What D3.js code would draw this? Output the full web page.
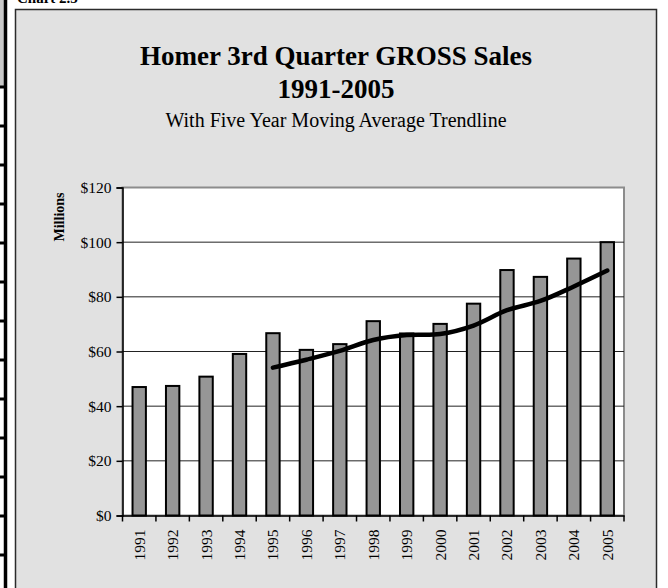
<!DOCTYPE html>
<html>
<head>
<meta charset="utf-8">
<script src="https://cdn.jsdelivr.net/npm/d3@7"></script>
<style>
  body { margin: 0; background: #fff; }
  svg { display: block; font-family: "Liberation Serif", "Times New Roman", serif; }
</style>
</head>
<body>
<div id="chart"></div>
<script>
// data
const years = ['1991', '1992', '1993', '1994', '1995', '1996', '1997', '1998',
  '1999', '2000', '2001', '2002', '2003', '2004', '2005'];
const sales = [47.0, 47.4, 50.8, 59.1, 66.7, 60.6, 62.7, 71.1, 66.6, 70.1, 77.5, 89.8, 87.3, 94.0, 100.0];
const movingAvg = [null, null, null, null, 54.1, 57.0, 60.2, 64.2, 66.0, 66.4, 69.5, 75.1, 78.5, 83.8, 89.6];
const yTicks = [0, 20, 40, 60, 80, 100, 120];

const width = 668;
const height = 588;

const svg = d3.select('#chart')
  .append('svg')
  .attr('width', width)
  .attr('height', height);

/* cut-off page bits on the left */
svg.append('rect').attr('x', 0).attr('y', 0).attr('width', 5).attr('height', 86).attr('fill', '#c8c8c8');
svg.append('line').attr('x1', 5.5).attr('x2', 5.5).attr('y1', 0).attr('y2', height)
  .attr('stroke', '#000').attr('stroke-width', 3.5);
svg.selectAll('.rowline')
  .data(d3.range(87, height, 39))
  .enter()
  .append('line')
  .attr('class', 'rowline')
  .attr('x1', 0).attr('x2', 7)
  .attr('y1', (d) => d).attr('y2', (d) => d)
  .attr('stroke', '#000').attr('stroke-width', 3);

svg.append('text')
  .attr('x', 17).attr('y', 3)
  .style('font-size', '15px').style('font-weight', 'bold')
  .text('Chart 2.5');

/* chart area */
svg.append('rect')
  .attr('x', 15.5).attr('y', 9.5)
  .attr('width', 641).attr('height', 600)
  .attr('fill', '#e1e1e1')
  .attr('stroke', '#2b2b2b')
  .attr('stroke-width', 1.5);

const title = svg.append('g').attr('text-anchor', 'middle');
title.append('text').attr('x', 336).attr('y', 65)
  .style('font-size', '27px').style('font-weight', 'bold')
  .text('Homer 3rd Quarter GROSS Sales');
title.append('text').attr('x', 336).attr('y', 98)
  .style('font-size', '27px').style('font-weight', 'bold')
  .text('1991-2005');
title.append('text').attr('x', 336).attr('y', 127)
  .style('font-size', '20px')
  .text('With Five Year Moving Average Trendline');

/* plot area */
const plot = { left: 122.5, right: 624, top: 187.5, bottom: 515.5 };

const xScale = d3.scaleBand()
  .domain(years)
  .range([plot.left, plot.right])
  .paddingInner(0.6)
  .paddingOuter(0.3);

const xCat = d3.scaleBand()
  .domain(years)
  .range([plot.left, plot.right]);

const yScale = d3.scaleLinear()
  .domain([0, 120])
  .range([plot.bottom, plot.top]);

svg.append('rect')
  .attr('x', plot.left).attr('y', plot.top)
  .attr('width', plot.right - plot.left).attr('height', plot.bottom - plot.top)
  .attr('fill', '#fff')
  .attr('stroke', '#8c8c8c')
  .attr('stroke-width', 2);

svg.append('g')
  .selectAll('line')
  .data(yTicks.slice(1, -1))
  .enter()
  .append('line')
  .attr('x1', plot.left).attr('x2', plot.right)
  .attr('y1', (d) => yScale(d)).attr('y2', (d) => yScale(d))
  .attr('stroke', '#222')
  .attr('stroke-width', 1);

/* bars */
svg.append('g')
  .selectAll('rect')
  .data(sales)
  .enter()
  .append('rect')
  .attr('x', (d, i) => xScale(years[i]))
  .attr('y', (d) => yScale(d))
  .attr('width', xScale.bandwidth())
  .attr('height', (d) => yScale(0) - yScale(d))
  .attr('fill', '#969696')
  .attr('stroke', '#000')
  .attr('stroke-width', 2);

/* axes */
const yAxis = d3.axisLeft(yScale)
  .tickValues(yTicks)
  .tickSize(6)
  .tickPadding(5)
  .tickFormat((d) => '$' + d);

const yG = svg.append('g')
  .attr('transform', `translate(${plot.left}, 0)`)
  .call(yAxis);
yG.select('.domain').attr('stroke', '#000').attr('stroke-width', 1.5);
yG.selectAll('.tick line').attr('stroke', '#000').attr('stroke-width', 1.5);
yG.selectAll('text')
  .style('font-family', '"Liberation Serif", serif')
  .style('font-size', '15.5px')
  .attr('fill', '#000');

const xAxis = d3.axisBottom(xCat).tickSize(0).tickPadding(0);
const xG = svg.append('g')
  .attr('transform', `translate(0, ${plot.bottom})`)
  .call(xAxis);
xG.select('.domain').attr('stroke', '#000').attr('stroke-width', 1.5);
xG.selectAll('text')
  .style('font-family', '"Liberation Serif", serif')
  .style('font-size', '15.5px')
  .attr('fill', '#000')
  .attr('transform', 'rotate(-90)')
  .attr('text-anchor', 'end')
  .attr('x', -14)
  .attr('y', 0)
  .attr('dy', '0.35em');

// tick marks between categories
xG.selectAll('.cat-tick')
  .data(years.concat(['end']))
  .enter()
  .append('line')
  .attr('class', 'cat-tick')
  .attr('x1', (d, i) => plot.left + i * xCat.step())
  .attr('x2', (d, i) => plot.left + i * xCat.step())
  .attr('y1', 0).attr('y2', 6)
  .attr('stroke', '#000').attr('stroke-width', 1.5);

svg.append('text')
  .attr('transform', 'translate(64, 217) rotate(-90)')
  .attr('text-anchor', 'middle')
  .style('font-size', '14px').style('font-weight', 'bold')
  .text('Millions');

/* moving average trendline */
const line = d3.line()
  .defined((d) => d !== null)
  .x((d, i) => xCat(years[i]) + xCat.bandwidth() / 2)
  .y((d) => yScale(d))
  .curve(d3.curveCatmullRom.alpha(0.5));

svg.append('path')
  .attr('d', line(movingAvg))
  .attr('fill', 'none')
  .attr('stroke', '#000')
  .attr('stroke-width', 4.5)
  .attr('stroke-linecap', 'round')
  .attr('stroke-linejoin', 'round');
</script>
</body>
</html>
